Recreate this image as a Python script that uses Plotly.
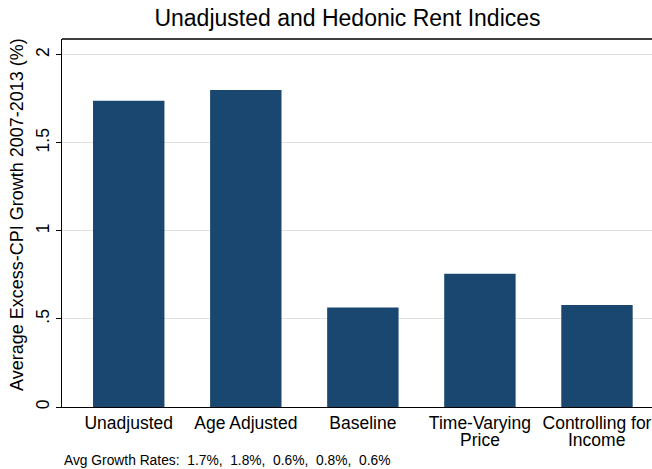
import plotly.graph_objects as go

CATEGORIES = ['Unadjusted', 'Age Adjusted', 'Baseline', 'Time-Varying', 'Controlling for']
CATEGORY_LINE2 = ['', '', '', 'Price', 'Income']
GROWTH = [1.74, 1.80, 0.565, 0.757, 0.58]
Y_TICKS = [0, 0.5, 1, 1.5, 2]
Y_TICK_TEXT = ['0', '.5', '1', '1.5', '2']
NOTE = 'Avg Growth Rates:  1.7%,  1.8%,  0.6%,  0.8%,  0.6%'

FONT = 'Liberation Sans, Arial, sans-serif'

fig = go.Figure()
fig.add_trace(go.Bar(
    x=list(range(len(CATEGORIES))), y=GROWTH,
    marker_color='#1a476f', marker_line_width=0, width=0.61,
))

fig.update_layout(
    width=652, height=469,
    margin=dict(l=62, r=0, t=39, b=62),
    paper_bgcolor='white', plot_bgcolor='white',
    showlegend=False,
    font=dict(family=FONT, color='black'),
    title=dict(text='Unadjusted and Hedonic Rent Indices', x=347.5 / 652, xanchor='center',
               y=1 - 18 / 469, yanchor='middle', font=dict(size=23, color='black')),
)
fig.update_xaxes(
    range=[-0.57, 4.47], tickmode='array', tickvals=list(range(len(CATEGORIES))),
    ticktext=CATEGORIES, ticks='', showline=True, linecolor='black', linewidth=1,
    showgrid=False, tickfont=dict(size=17.5), zeroline=False,
)
fig.update_yaxes(
    range=[0, 2.09], tickmode='array', tickvals=Y_TICKS, ticktext=Y_TICK_TEXT,
    tickangle=-90, ticks='outside', ticklen=5, tickcolor='black',
    showline=True, linecolor='black', linewidth=1, showgrid=True,
    gridcolor='#e2e2e2', gridwidth=1, zeroline=False, tickfont=dict(size=17.5),
)
# second lines of the category labels, set tighter than plotly's <br> spacing
for i, line2 in enumerate(CATEGORY_LINE2):
    if line2:
        fig.add_annotation(text=line2, x=i, xref='x', yref='paper', y=-(440 - 407) / 368,
                           xanchor='center', yanchor='middle', showarrow=False,
                           font=dict(size=17.5, color='black'))
# y-axis title placed by hand (Stata centres it a little higher than the plot area)
fig.add_annotation(text='Average Excess-CPI Growth 2007-2013 (%)', xref='paper', yref='paper',
                   x=-(62 - 17) / 590, y=(407 - 215) / 368, xanchor='center', yanchor='middle',
                   textangle=-90, showarrow=False, font=dict(size=18, color='black'))
fig.add_shape(type='line', xref='paper', yref='paper', x0=0, x1=1, y0=1, y1=1,
              line=dict(color='#404040', width=2))
fig.add_annotation(text=NOTE, xref='paper', yref='paper', x=0.0, y=-(451 - 407) / 368,
                   xanchor='left', yanchor='top', showarrow=False,
                   font=dict(size=13.8, color='black'))

fig.write_html('out.html', config={'displayModeBar': False},
               post_script="document.body.style.margin='0';")
